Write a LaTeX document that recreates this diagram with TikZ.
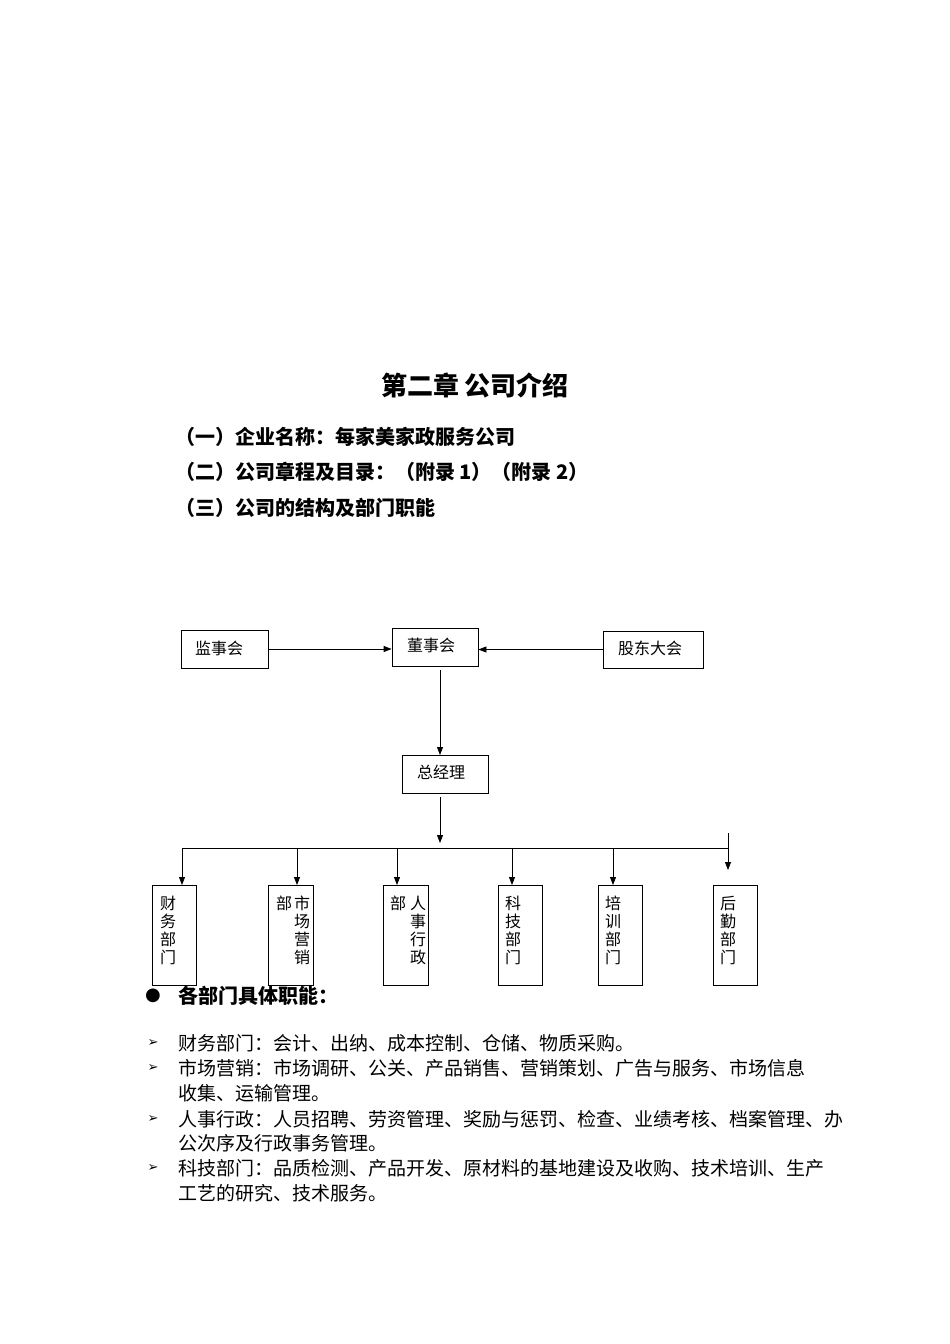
\documentclass[tikz,border=0pt]{standalone}
\usepackage{fontspec}
\setmainfont{Noto Sans CJK SC}
\newfontfamily\dv{DejaVu Sans}
\usetikzlibrary{arrows.meta}
\begin{document}
\begin{tikzpicture}[x=1pt,y=-1pt,
  box/.style={draw,line width=0.8pt,inner sep=0pt},
  arr/.style={-{Triangle[length=8pt,width=6pt]},line width=0.8pt},
  ln/.style={line width=0.8pt},
  lab/.style={font=\fontsize{16}{18}\selectfont,inner sep=0pt},
  vt/.style={font=\fontsize{16}{18}\selectfont,inner sep=0pt,align=center,anchor=north},
  hd/.style={font=\fontsize{20}{24}\selectfont\bfseries,anchor=west,inner sep=0pt},
  li/.style={font=\fontsize{19}{22}\selectfont,anchor=west,inner sep=0pt}]
\useasboundingbox (0,0) rectangle (950,1344);
\node[font=\fontsize{26}{30}\selectfont\bfseries,inner sep=0pt] (title) at (475,385) {第二章\ 公司介绍};
\node[hd] (h1) at (175,437) {（一）企业名称：每家美家政服务公司};
\node[hd] (h2) at (175,472) {（二）公司章程及目录：（附录 1）（附录 2）};
\node[hd] (h3) at (175,508) {（三）公司的结构及部门职能};
% top boxes
\node[box,minimum width=87pt,minimum height=38pt] (jsh) at (224.5,649) {};
\node[lab] at (219,648) {监事会};
\node[box,minimum width=86pt,minimum height=38pt] (dsh) at (435,647) {};
\node[lab] at (431,645) {董事会};
\node[box,minimum width=100pt,minimum height=37pt] (gd) at (653,649.5) {};
\node[lab] at (650,648) {股东大会};
\node[box,minimum width=86pt,minimum height=38pt] (zjl) at (445,774) {};
\node[lab] at (441,772) {总经理};
\draw[arr] (jsh.east) -- (dsh.west|-jsh.east);
\draw[arr] (gd.west) -- (dsh.east|-gd.west);
\draw[arr] (440,670) coordinate (d1) -- (440,755);
\draw[arr] (440,797) coordinate (z1) -- (440,843);
\draw[ln] (182,848) coordinate (hl) -- (728,848) coordinate (hr);
\coordinate (top6) at (728,833);
\draw[arr] (top6) -- (728,870);
% dept boxes
\foreach \n/\l/\r in {b1/152/196,b2/268/313,b3/383/428,b4/498/542,b5/598/642,b6/713/757}{
  \node[box,minimum width={\r-\l},minimum height=100pt] (\n) at ({(\l+\r)/2},935) {};
}
\foreach \n/\x in {b1/182,b2/297,b3/397,b4/512,b5/613}{
  \draw[arr] (\x,848) -- (\x,885);
}
\node[vt] at (168,896) {财\\务\\部\\门};
\node[vt] at (302,896) {市\\场\\营\\销};
\node[vt] at (284,896) {部};
\node[vt] at (418,896) {人\\事\\行\\政};
\node[vt] at (398,896) {部};
\node[vt] at (513,896) {科\\技\\部\\门};
\node[vt] at (613,896) {培\\训\\部\\门};
\node[vt] at (728,896) {后\\勤\\部\\门};
% list
\node[font=\dv\fontsize{18}{20}\selectfont,inner sep=0pt] (bul) at (153,996) {●};
\node[hd] (h4) at (178,996) {各部门具体职能：};
\foreach \y in {1043,1068,1119,1168}{\node[font=\dv\fontsize{13}{15}\selectfont,inner sep=0pt] at (153,\y) {➢};}
\node[li] at (178,1043) {财务部门：会计、出纳、成本控制、仓储、物质采购。};
\node[li] at (178,1068) {市场营销：市场调研、公关、产品销售、营销策划、广告与服务、市场信息};
\node[li] at (178,1093) {收集、运输管理。};
\node[li] at (178,1119) {人事行政：人员招聘、劳资管理、奖励与惩罚、检查、业绩考核、档案管理、办};
\node[li] at (178,1143) {公次序及行政事务管理。};
\node[li] at (178,1168) {科技部门：品质检测、产品开发、原材料的基地建设及收购、技术培训、生产};
\node[li] at (178,1193) {工艺的研究、技术服务。};
\end{tikzpicture}
\end{document}
